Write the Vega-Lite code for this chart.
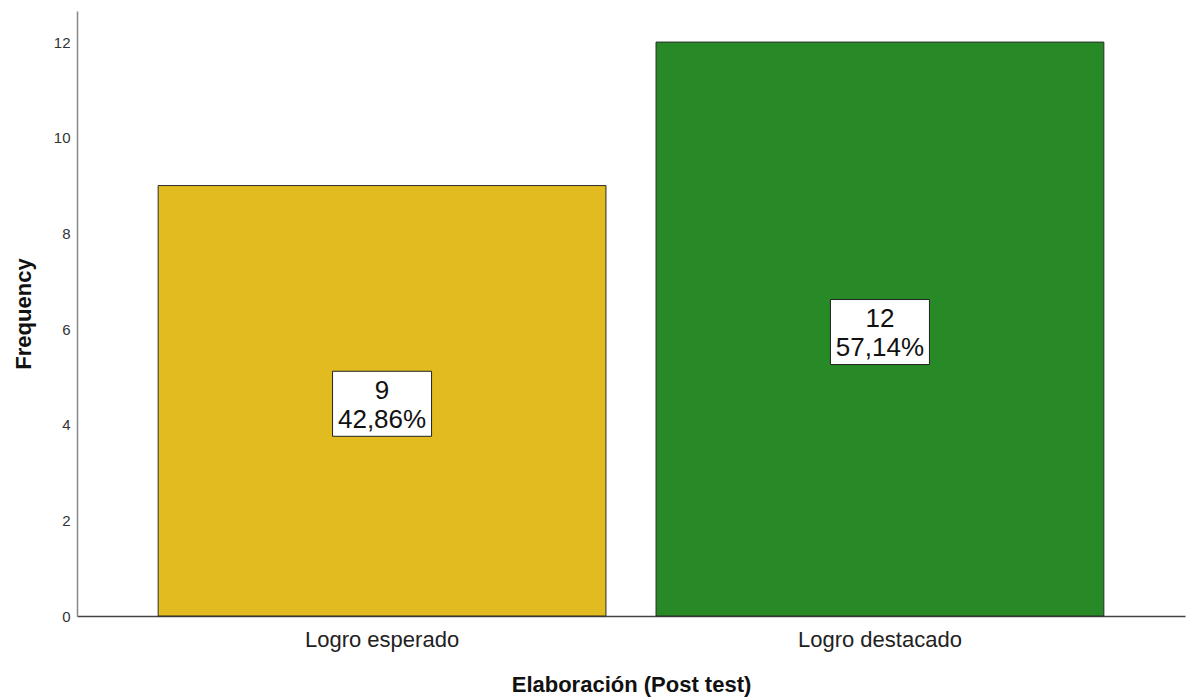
{
  "$schema": "https://vega.github.io/schema/vega-lite/v6.json",
  "width": 1108,
  "height": 605,
  "autosize": {"type": "none"},
  "padding": {"left": 77, "top": 11, "right": 7, "bottom": 81},
  "background": "white",
  "config": {"view": {"stroke": null}, "font": "Liberation Sans"},
  "data": {
    "values": [
      {"category": "Logro esperado", "count": 9, "label": "9\n42,86%"},
      {"category": "Logro destacado", "count": 12, "label": "12\n57,14%"}
    ]
  },
  "transform": [{"calculate": "datum.count / 2", "as": "mid"}],
  "encoding": {
    "x": {
      "field": "category",
      "type": "nominal",
      "sort": ["Logro esperado", "Logro destacado"],
      "scale": {"paddingInner": 0.1006, "paddingOuter": 0.163},
      "axis": {
        "title": "Elaboración (Post test)",
        "titleFont": "Liberation Sans",
        "titleFontSize": 22,
        "titleFontWeight": "bold",
        "titleColor": "#111",
        "titlePadding": 24,
        "labelFont": "Liberation Sans",
        "labelFontSize": 22,
        "labelColor": "#222",
        "labelAngle": 0,
        "labelPadding": 13,
        "ticks": false,
        "domainColor": "#444",
        "domainWidth": 1.5
      }
    }
  },
  "layer": [
    {
      "mark": {"type": "bar", "stroke": "#2a2a2a", "strokeWidth": 1},
      "encoding": {
        "y": {
          "field": "count",
          "type": "quantitative",
          "scale": {"domain": [0, 12.65], "nice": false},
          "axis": {
            "values": [0, 2, 4, 6, 8, 10, 12],
            "title": "Frequency",
            "titleFont": "Liberation Sans",
            "titleFontSize": 22,
            "titleFontWeight": "bold",
            "titleColor": "#111",
            "titlePadding": 18,
            "labelFont": "Liberation Sans",
            "labelFontSize": 15,
            "labelColor": "#333",
            "labelPadding": 7,
            "ticks": false,
            "grid": false,
            "domainColor": "#888",
            "domainWidth": 1.5
          }
        },
        "color": {
          "field": "category",
          "type": "nominal",
          "scale": {"domain": ["Logro esperado", "Logro destacado"], "range": ["#E1BB1F", "#288A27"]},
          "legend": null
        }
      }
    },
    {
      "mark": {
        "type": "point",
        "shape": "M-1,-0.6566L1,-0.6566L1,0.6566L-1,0.6566Z",
        "size": 9801,
        "filled": true,
        "fill": "white",
        "stroke": "#222",
        "strokeWidth": 1,
        "opacity": 1,
        "yOffset": 3
      },
      "encoding": {
        "y": {"field": "mid", "type": "quantitative", "scale": {"domain": [0, 12.65], "nice": false}}
      }
    },
    {
      "mark": {
        "type": "text",
        "lineBreak": "\n",
        "fontSize": 26,
        "lineHeight": 29,
        "font": "Liberation Sans",
        "color": "#111",
        "baseline": "middle",
        "yOffset": -10
      },
      "encoding": {
        "y": {"field": "mid", "type": "quantitative", "scale": {"domain": [0, 12.65], "nice": false}},
        "text": {"field": "label"}
      }
    }
  ]
}
